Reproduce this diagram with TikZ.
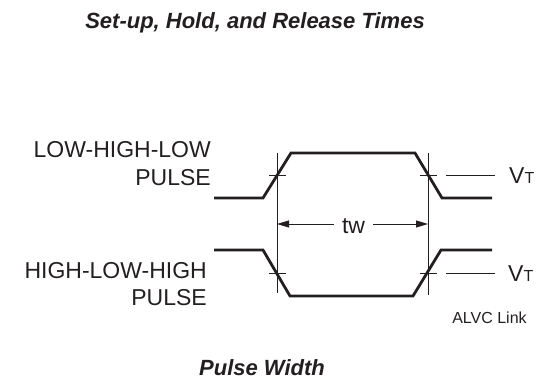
\documentclass[tikz,border=0pt]{standalone}
\usepackage{fontspec}
\setmainfont{Liberation Sans}
\usetikzlibrary{arrows.meta}
\definecolor{ink}{HTML}{231F20}
\begin{document}
\begin{tikzpicture}[x=1pt,y=-1pt,
  wave/.style={draw=ink,line width=2.8pt},
  thin/.style={draw=ink,line width=0.9pt},
  lbl/.style={text=ink,inner sep=0pt,font=\fontsize{23}{27}\selectfont},
  ttl/.style={text=ink,inner sep=0pt,font=\fontsize{22}{26}\selectfont\bfseries\itshape},
  small/.style={text=ink,inner sep=0pt,font=\fontsize{16}{19}\selectfont},
  arr/.style={draw=ink,line width=0.9pt,-{Triangle[length=12pt,width=7pt]}}]
\useasboundingbox (0,0) rectangle (543,379);
% titles
\node[ttl,anchor=base] (title) at (255,29) {Set-up, Hold, and Release Times};
\node[ttl,anchor=base] (caption) at (262,375) {Pulse Width};
% left labels
\node[lbl,anchor=base east] (l1a) at (211,158) {LOW-HIGH-LOW};
\node[lbl,anchor=base east] (l1b) at (211,186) {PULSE};
\node[lbl,anchor=base east] (l2a) at (207,278) {HIGH-LOW-HIGH};
\node[lbl,anchor=base east] (l2b) at (207,305) {PULSE};
% waveforms
\draw[wave] (214,198) -- (263,198) -- (291,153) -- (415,153) -- (442,198) -- (492,198);
\draw[wave] (214,250) -- (263,250) -- (290,296) -- (413,296) -- (441,250) -- (492,250);
% vertical reference lines
\coordinate (Lt) at (277,153); \coordinate (Lb) at (277,293);
\coordinate (Rt) at (428,153); \coordinate (Rb) at (428,295);
\draw[thin] (Lt) -- (Lb);
\draw[thin] (Rt) -- (Rb);
% threshold ticks
\draw[thin] (269,175) -- (286,175);
\draw[thin] (420,175) -- (437,175);
\draw[thin] (446,175) -- (495,175);
\draw[thin] (269,273) -- (286,273);
\draw[thin] (420,273) -- (437,273);
\draw[thin] (446,273) -- (495,273);
% VT labels
\node[lbl,anchor=base west] (vt1) at (509,184) {V{\fontsize{16}{19}\selectfont T}};
\node[lbl,anchor=base west] (vt2) at (508,281) {V{\fontsize{16}{19}\selectfont T}};
% tw
\node[lbl,anchor=base,inner xsep=8pt] (tw) at (353.5,234) {tw};
\coordinate (aL) at (277,224); \coordinate (aR) at (428,224);
\draw[arr] (tw.west |- aL) -- (aL);
\draw[arr] (tw.east |- aR) -- (aR);
% note
\node[small,anchor=base] (alvc) at (489.5,323) {ALVC Link};
\end{tikzpicture}
\end{document}
